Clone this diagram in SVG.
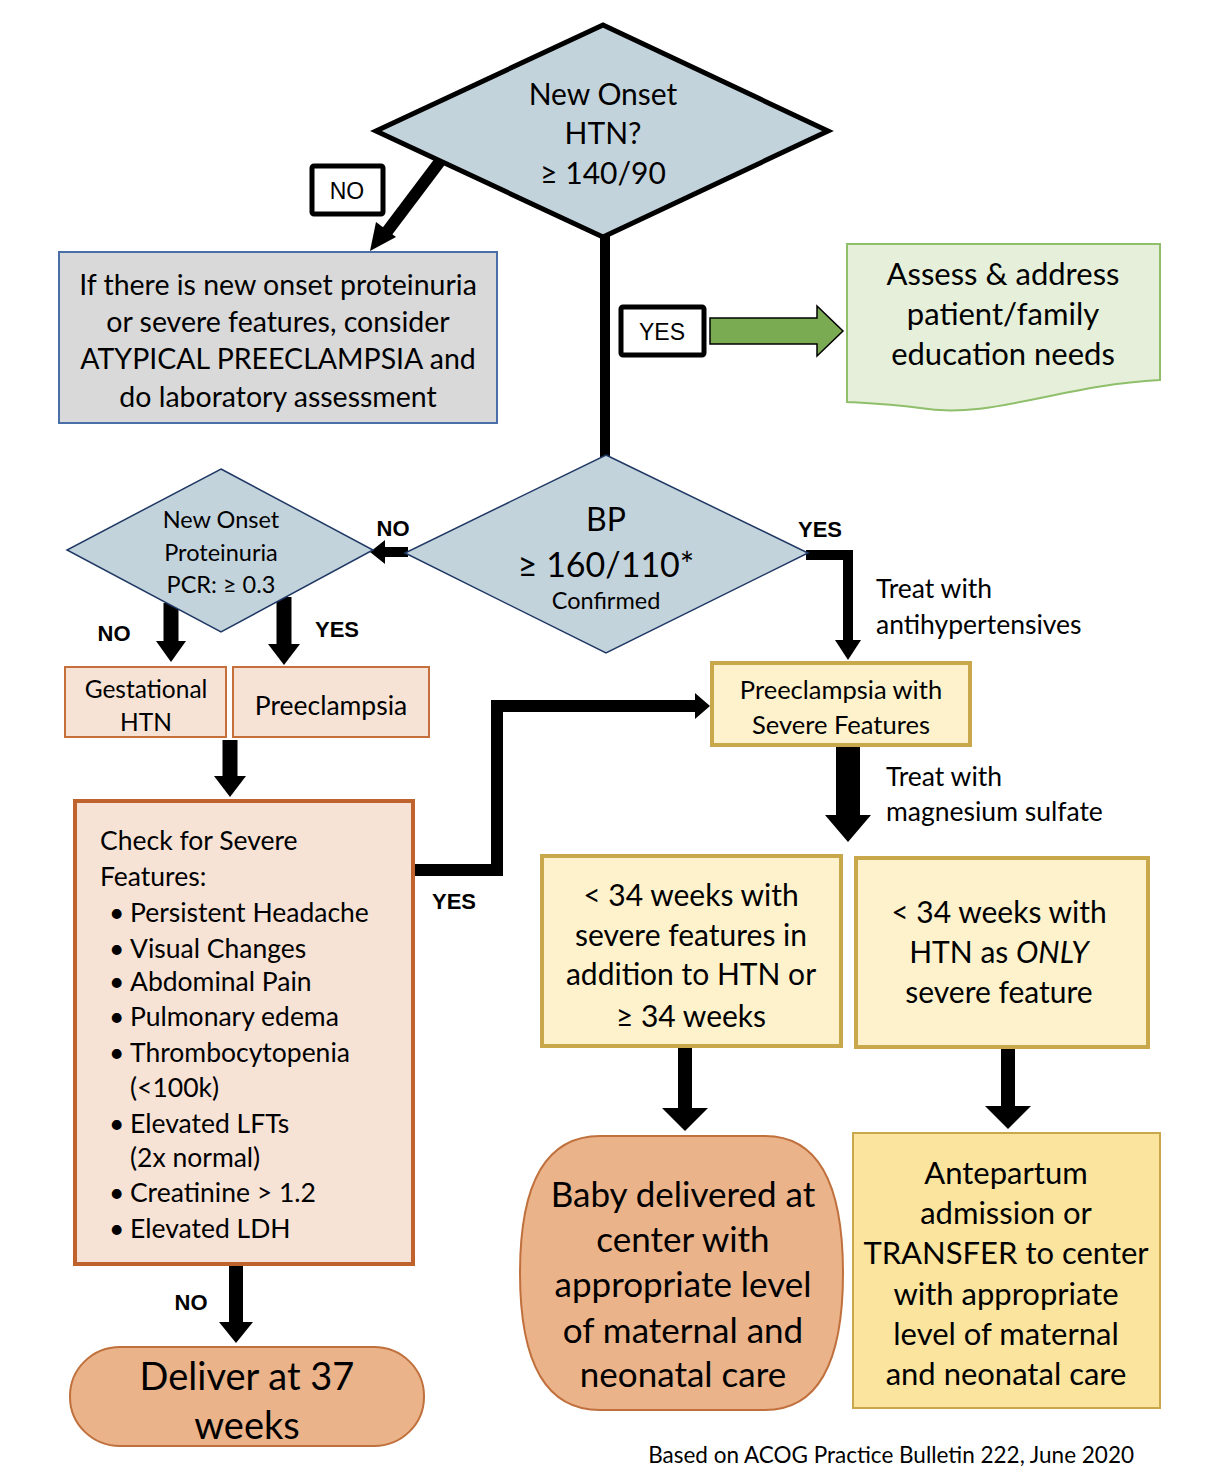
<svg xmlns="http://www.w3.org/2000/svg" width="1214" height="1478" viewBox="0 0 1214 1478">
<style>
  text { font-family: Lato, "Open Sans", sans-serif; fill: #000; dominant-baseline: central; }
  .c { text-anchor: middle; }
  .lbl { font-family: "Liberation Sans", Arial, sans-serif; font-weight: bold; font-size: 22px; }
  .tag { font-family: "Liberation Sans", Arial, sans-serif; font-size: 23px; }
  .dia { fill: #c3d3dc; stroke: #1f3864; stroke-width: 1.5; }
  .peach { fill: #f6e3d6; stroke: #c5703a; stroke-width: 2; }
  .yel { fill: #fdf2cc; stroke: #c8a84a; stroke-width: 4; }
  .term { fill: #eab38a; stroke: #c0703d; stroke-width: 2; }
  .ln { fill: none; stroke: #000; }
  .ah { fill: #000; }
</style>
<rect width="1214" height="1478" fill="#fff"/>

<g id="connectors">
  <line class="ln" x1="605" y1="230" x2="605" y2="458" stroke-width="10"/>
  <line class="ln" x1="441" y1="160" x2="386" y2="233" stroke-width="12"/>
  <polygon class="ah" points="370,251 376,222 396,237"/>
  <polygon points="710,318 817,318 817,306 843,331 817,356 817,344 710,344" fill="#7aaa52" stroke="#000" stroke-width="1.5"/>
  <line class="ln" x1="408" y1="552" x2="384" y2="552" stroke-width="10"/>
  <polygon class="ah" points="370,552 385,540 385,564"/>
  <polyline class="ln" points="806,555 848,555 848,640" stroke-width="10"/>
  <polygon class="ah" points="835,640 861,640 848,660"/>
  <line class="ln" x1="171" y1="603" x2="171" y2="642" stroke-width="15"/>
  <polygon class="ah" points="156,641 186,641 171,662"/>
  <line class="ln" x1="284" y1="597" x2="284" y2="645" stroke-width="15"/>
  <polygon class="ah" points="268,644 300,644 284,665"/>
  <line class="ln" x1="230" y1="740" x2="230" y2="777" stroke-width="15"/>
  <polygon class="ah" points="214,776 246,776 230,797"/>
  <polyline class="ln" points="413,870 497,870 497,706 697,706" stroke-width="12"/>
  <polygon class="ah" points="695,693 710,706 695,719"/>
  <line class="ln" x1="848" y1="747" x2="848" y2="817" stroke-width="24"/>
  <polygon class="ah" points="825,815 871,815 848,842"/>
  <line class="ln" x1="685" y1="1048" x2="685" y2="1110" stroke-width="14"/>
  <polygon class="ah" points="662,1108 708,1108 685,1131"/>
  <line class="ln" x1="1008" y1="1048" x2="1008" y2="1108" stroke-width="14"/>
  <polygon class="ah" points="985,1106 1031,1106 1008,1129"/>
  <line class="ln" x1="236" y1="1266" x2="236" y2="1324" stroke-width="14"/>
  <polygon class="ah" points="219,1322 253,1322 236,1343"/>
  <rect x="312" y="166" width="71" height="48" fill="#fff" stroke="#000" stroke-width="5" rx="2"/>
  <text class="tag c" x="347" y="191">NO</text>
  <rect x="621" y="307" width="83" height="48" fill="#fff" stroke="#000" stroke-width="5" rx="2"/>
  <text class="tag c" x="662" y="332">YES</text>
  <text class="lbl c" x="393" y="528">NO</text>
  <text class="lbl c" x="820" y="529">YES</text>
  <text class="lbl c" x="114" y="633">NO</text>
  <text class="lbl c" x="337" y="629">YES</text>
  <text class="lbl c" x="454" y="901">YES</text>
  <text class="lbl c" x="191" y="1302">NO</text>
  <text x="876" y="588" font-size="26.5">Treat with</text>
  <text x="876" y="624" font-size="26.5">antihypertensives</text>
  <text x="886" y="776" font-size="26.5">Treat with</text>
  <text x="886" y="811" font-size="26.5">magnesium sulfate</text>
</g>

<g id="n-htn">
  <polygon points="603,25 828,131 603,237 376,131" fill="#c3d3dc" stroke="#000" stroke-width="5"/>
  <text class="c" x="603" y="93" font-size="30">New Onset</text>
  <text class="c" x="603" y="132" font-size="30">HTN?</text>
  <text class="c" x="603" y="172" font-size="30">≥ 140/90</text>
</g>

<g id="n-atypical">
  <rect x="59" y="252" width="438" height="171" fill="#d9d9d9" stroke="#4a6ea8" stroke-width="2"/>
  <text class="c" x="278" y="284" font-size="28.5">If there is new onset proteinuria</text>
  <text class="c" x="278" y="321" font-size="28.5">or severe features, consider</text>
  <text class="c" x="278" y="358" font-size="28.5">ATYPICAL PREECLAMPSIA and</text>
  <text class="c" x="278" y="396" font-size="28.5">do laboratory assessment</text>
</g>

<g id="n-educ">
  <path d="M847,244 L1160,244 L1160,380 C1060,385 990,420 920,408 C890,404 865,403 847,402 Z" fill="#e5efd9" stroke="#8fbf6a" stroke-width="2"/>
  <text class="c" x="1003" y="273" font-size="31">Assess &amp; address</text>
  <text class="c" x="1003" y="313" font-size="31">patient/family</text>
  <text class="c" x="1003" y="353" font-size="31">education needs</text>
</g>

<g id="n-bp">
  <polygon class="dia" points="606,455 808,553 606,653 405,553"/>
  <text class="c" x="606" y="518" font-size="32">BP</text>
  <text class="c" x="606" y="563" font-size="34">≥ 160/110*</text>
  <text class="c" x="606" y="600" font-size="23.5">Confirmed</text>
</g>

<g id="n-prot">
  <polygon class="dia" points="221,469 373,550 221,632 67,550"/>
  <text class="c" x="221" y="519" font-size="23.5">New Onset</text>
  <text class="c" x="221" y="552" font-size="23.5">Proteinuria</text>
  <text class="c" x="221" y="584" font-size="23.5">PCR: ≥ 0.3</text>
</g>

<g id="n-ghtn">
  <rect class="peach" x="65" y="667" width="161" height="70"/>
  <text class="c" x="146" y="688" font-size="24.5">Gestational</text>
  <text class="c" x="146" y="721" font-size="24.5">HTN</text>
</g>

<g id="n-pre">
  <rect class="peach" x="233" y="667" width="196" height="70"/>
  <text class="c" x="331" y="705" font-size="26.5">Preeclampsia</text>
</g>

<g id="n-check">
  <rect x="75" y="801" width="338" height="463" fill="#f6e3d6" stroke="#c0622d" stroke-width="4"/>
  <g font-size="26.5">
    <text x="100" y="840" font-size="26.5">Check for Severe</text>
    <text x="100" y="876" font-size="26.5">Features:</text>
    <text x="109" y="912" font-size="26.5">•</text><text x="130" y="912" font-size="26.5">Persistent Headache</text>
    <text x="109" y="948" font-size="26.5">•</text><text x="130" y="948" font-size="26.5">Visual Changes</text>
    <text x="109" y="981" font-size="26.5">•</text><text x="130" y="981" font-size="26.5">Abdominal Pain</text>
    <text x="109" y="1016" font-size="26.5">•</text><text x="130" y="1016" font-size="26.5">Pulmonary edema</text>
    <text x="109" y="1052" font-size="26.5">•</text><text x="130" y="1052" font-size="26.5">Thrombocytopenia</text>
    <text x="130" y="1087" font-size="26.5">(&lt;100k)</text>
    <text x="109" y="1123" font-size="26.5">•</text><text x="130" y="1123" font-size="26.5">Elevated LFTs</text>
    <text x="130" y="1157" font-size="26.5">(2x normal)</text>
    <text x="109" y="1192" font-size="26.5">•</text><text x="130" y="1192" font-size="26.5">Creatinine &gt; 1.2</text>
    <text x="109" y="1228" font-size="26.5">•</text><text x="130" y="1228" font-size="26.5">Elevated LDH</text>
  </g>
</g>

<g id="n-deliver37">
  <rect class="term" x="70" y="1347" width="354" height="99" rx="50" ry="49"/>
  <text class="c" x="247" y="1375" font-size="38">Deliver at 37</text>
  <text class="c" x="247" y="1424" font-size="38">weeks</text>
</g>

<g id="n-psf">
  <rect class="yel" x="712" y="663" width="258" height="82"/>
  <text class="c" x="841" y="689" font-size="25.5">Preeclampsia with</text>
  <text class="c" x="841" y="724" font-size="25.5">Severe Features</text>
</g>

<g id="n-lt34a">
  <rect class="yel" x="542" y="856" width="299" height="190"/>
  <text class="c" x="691" y="894" font-size="30">&lt; 34 weeks with</text>
  <text class="c" x="691" y="934" font-size="30">severe features in</text>
  <text class="c" x="691" y="973" font-size="30">addition to HTN or</text>
  <text class="c" x="691" y="1015" font-size="30">≥ 34 weeks</text>
</g>

<g id="n-lt34b">
  <rect class="yel" x="856" y="858" width="292" height="189"/>
  <text class="c" x="999" y="911" font-size="30">&lt; 34 weeks with</text>
  <text class="c" x="999" y="951" font-size="30">HTN as <tspan font-style="italic">ONLY</tspan></text>
  <text class="c" x="999" y="991" font-size="30">severe feature</text>
</g>

<g id="n-baby">
  <path class="term" d="M600,1136 L765,1136 Q843,1136 843,1273 Q843,1410 765,1410 L600,1410 Q520,1410 520,1273 Q520,1136 600,1136 Z"/>
  <text class="c" x="683" y="1193" font-size="35">Baby delivered at</text>
  <text class="c" x="683" y="1238" font-size="35">center with</text>
  <text class="c" x="683" y="1283" font-size="35">appropriate level</text>
  <text class="c" x="683" y="1329" font-size="35">of maternal and</text>
  <text class="c" x="683" y="1373" font-size="35">neonatal care</text>
</g>

<g id="n-antepartum">
  <rect x="853" y="1133" width="307" height="275" fill="#fbe49e" stroke="#c8a84a" stroke-width="2"/>
  <text class="c" x="1006" y="1172" font-size="31">Antepartum</text>
  <text class="c" x="1006" y="1212" font-size="31">admission or</text>
  <text class="c" x="1006" y="1252" font-size="31">TRANSFER to center</text>
  <text class="c" x="1006" y="1293" font-size="31">with appropriate</text>
  <text class="c" x="1006" y="1333" font-size="31">level of maternal</text>
  <text class="c" x="1006" y="1373" font-size="31">and neonatal care</text>
</g>

<text x="1134" y="1454" font-size="22.5" text-anchor="end">Based on ACOG Practice Bulletin 222, June 2020</text>
</svg>
